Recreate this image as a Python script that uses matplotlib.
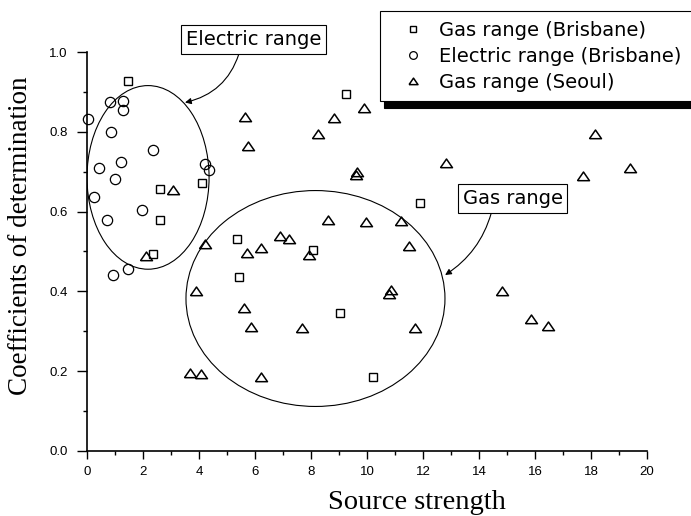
import matplotlib.pyplot as plt
from matplotlib.patches import Ellipse

# values
gas_bris_x = [1.45, 2.35, 2.61, 2.61, 4.12, 5.35, 5.42, 8.06, 9.04, 9.25, 10.23, 11.88]
gas_bris_y = [0.929, 0.494, 0.658, 0.580, 0.673, 0.531, 0.435, 0.505, 0.345, 0.895, 0.184, 0.623]

elec_bris_x = [0.05, 0.26, 0.44, 0.70, 0.82, 0.85, 0.92, 1.00, 1.20, 1.27, 1.30, 1.45, 1.95, 2.37, 4.20, 4.35]
elec_bris_y = [0.833, 0.638, 0.710, 0.580, 0.875, 0.800, 0.441, 0.683, 0.725, 0.877, 0.854, 0.456, 0.605, 0.754, 0.720, 0.705]

gas_seoul_x = [2.10, 3.08, 3.68, 3.89, 4.07, 4.23, 5.62, 5.64, 5.73, 5.76, 5.85, 6.20,
               6.21, 6.88, 7.22, 7.69, 7.94, 8.26, 8.61, 8.81, 9.60, 9.64, 9.91, 9.97,
               10.79, 10.86, 11.20, 11.49, 11.71, 12.83, 14.81, 15.86, 16.48, 17.70, 18.14, 19.39]
gas_seoul_y = [0.489, 0.655, 0.196, 0.400, 0.193, 0.519, 0.359, 0.838, 0.497, 0.766, 0.310, 0.509,
               0.184, 0.539, 0.531, 0.307, 0.492, 0.796, 0.580, 0.835, 0.693, 0.699, 0.860, 0.575,
               0.394, 0.404, 0.576, 0.515, 0.309, 0.722, 0.400, 0.330, 0.312, 0.690, 0.796, 0.710]

x_ticks = [0, 2, 4, 6, 8, 10, 12, 14, 16, 18, 20]
y_ticks = [0.0, 0.2, 0.4, 0.6, 0.8, 1.0]

sans = ['Liberation Sans', 'DejaVu Sans']
wide_sans = ['DejaVu Sans']
serif = ['Liberation Serif', 'DejaVu Serif']

# flat open triangle like in the scan
tri = [(-1, -0.7), (1, -0.7), (0, 0.75), (-1, -0.7)]

fig = plt.figure(figsize=(6.91, 5.16), dpi=100)
ax = fig.add_axes([0.1259, 0.1266, 0.8104, 0.772])

# the three series, open markers
ax.plot(gas_bris_x, gas_bris_y, 's', ms=6, mfc='none', mec='black', mew=1.0,
        clip_on=False, label='Gas range (Brisbane)')
ax.plot(elec_bris_x, elec_bris_y, 'o', ms=7.4, mfc='none', mec='black', mew=0.9,
        clip_on=False, label='Electric range (Brisbane)')
ax.plot(gas_seoul_x, gas_seoul_y, ls='none', marker=tri, ms=8.6, mfc='none', mec='black',
        mew=1.1, clip_on=False, label='Gas range (Seoul)')

# ellipses round the two groups
ax.add_patch(Ellipse((2.18, 0.686), 4.36, 0.461, fill=False, ec='black', lw=0.8))
ax.add_patch(Ellipse((8.16, 0.382), 9.25, 0.542, fill=False, ec='black', lw=0.8))

box = dict(boxstyle='square,pad=0.25', fc='white', ec='black', lw=0.8)
ax.annotate('Electric range', xy=(3.5, 0.874), xytext=(5.96, 1.032),
            ha='center', va='center', fontsize=14, family=wide_sans, bbox=box,
            annotation_clip=False,
            arrowprops=dict(arrowstyle='-|>', connectionstyle='arc3,rad=-0.3',
                            color='black', lw=0.8, shrinkA=0, shrinkB=0,
                            mutation_scale=9, relpos=(0.4, 0)))
ax.annotate('Gas range', xy=(12.79, 0.441), xytext=(15.2, 0.633),
            ha='center', va='center', fontsize=14, family=wide_sans, bbox=box,
            annotation_clip=False,
            arrowprops=dict(arrowstyle='-|>', connectionstyle='arc3,rad=-0.2',
                            color='black', lw=0.8, shrinkA=0, shrinkB=0,
                            mutation_scale=9, relpos=(0.3, 0)))

ax.set_xlim(0, 20)
ax.set_ylim(0, 1.0)
ax.set_xticks(x_ticks)
ax.set_yticks(y_ticks)
ax.set_xticks(range(0, 21), minor=True)
ax.set_yticks([i / 10 for i in range(11)], minor=True)
ax.set_xticklabels([str(t) for t in x_ticks], family=sans, fontsize=9.5)
ax.set_yticklabels(['%.1f' % t for t in y_ticks], family=sans, fontsize=9.5)
ax.tick_params(axis='x', which='major', direction='out', length=6, width=1, pad=5)
ax.tick_params(axis='y', which='major', direction='out', length=7, width=1, pad=7)
ax.tick_params(which='minor', direction='out', length=3, width=1)

ax.spines['top'].set_visible(False)
ax.spines['right'].set_visible(False)
ax.spines['left'].set_linewidth(1.2)
ax.spines['bottom'].set_linewidth(1.2)

ax.set_xlabel('Source strength', family=serif, fontsize=20.5)
ax.set_ylabel('Coefficients of determination', family=serif, fontsize=19.5)
ax.xaxis.set_label_coords(0.59, -0.098)
ax.yaxis.set_label_coords(-0.097, 0.539)

# legend sits in the top right corner and runs off the right edge
leg = ax.legend(loc='upper left', bbox_to_anchor=(380 / 691, 0, 335 / 691, 1 - 11 / 516),
                bbox_transform=fig.transFigure, mode='expand', borderaxespad=0,
                fancybox=False, prop={'family': wide_sans, 'size': 14}, markerscale=0.75,
                handlelength=2.4, handletextpad=0.15, labelspacing=0.36,
                borderpad=0.5, framealpha=1,
                shadow={'ox': 3, 'oy': -5, 'color': 'black', 'alpha': 1})
leg.get_frame().set_edgecolor('black')
leg.get_frame().set_linewidth(0.8)

fig.savefig('out.png', dpi=100)
